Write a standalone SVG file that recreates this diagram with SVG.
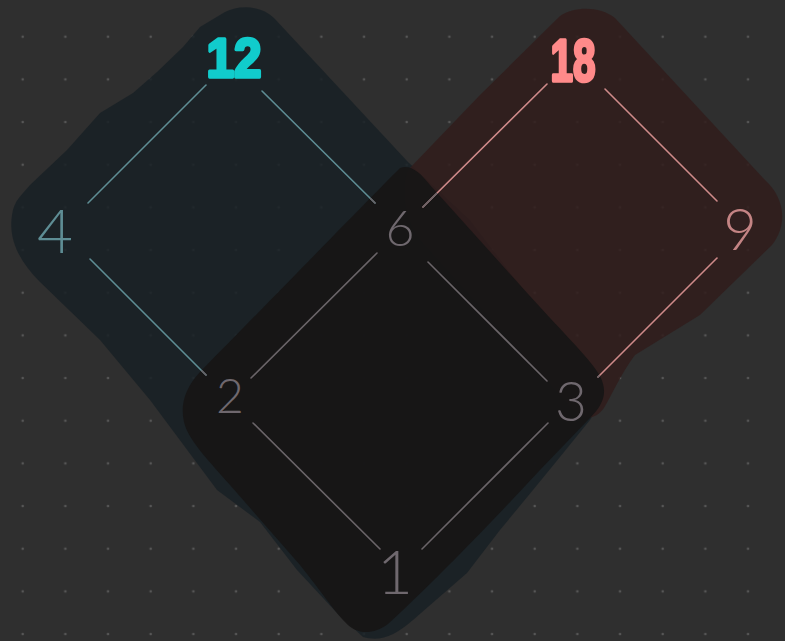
<svg xmlns="http://www.w3.org/2000/svg" width="785" height="641" viewBox="0 0 785 641">
<style>
.bg{fill:#2f2f2f}
.dot{fill:#575757}
.teal{fill:#182125;fill-opacity:0.86}
.red{fill:#311d1c;fill-opacity:0.86}
.blk{fill:#171616;fill-opacity:0.93}
.ln{stroke-width:1.6;stroke-linecap:round;fill:none}
.lt{stroke:#5e8d94}
.lp{stroke:#cf8a8a}
.lg{stroke:#6a6468}
.num{font-family:Lato,"Open Sans","Liberation Sans",sans-serif;font-weight:300;text-anchor:middle}
.big{font-family:"Liberation Sans",Arial,sans-serif;font-weight:bold;text-anchor:middle;stroke-width:3.5;stroke-linejoin:round}
.gt{fill:#6f686e}
</style>
<defs>
<pattern id="grid" patternUnits="userSpaceOnUse" width="42.667" height="42.667">
<circle class="dot" cx="22.67" cy="36.67" r="1.3"/>
</pattern>
<path id="blackShape" d="M 400 168 C 380 188 300 270 200 372 C 185 388 180 405 184 422 C 188 440 210 462 230 485 L 300 565 C 320 590 335 612 345 622 C 355 634 372 636 388 624 C 420 595 480 535 540 470 L 590 418 C 604 404 608 392 600 376 C 590 358 560 330 520 285 L 430 185 C 420 172 410 164 400 168 Z"/>
<clipPath id="blackClip"><use href="#blackShape"/></clipPath>
</defs>
<rect class="bg" x="0" y="0" width="785" height="641"/>
<rect x="0" y="0" width="785" height="641" fill="url(#grid)"/>

<g id="blob-12">
<path class="teal" d="M 225 12 C 240 4 262 6 274 18 L 408 162 L 470 220 L 585 370 C 600 385 600 405 590 420 L 560 457 L 533 490 L 500 530 L 467 573 L 413 620 C 395 636 380 642 363 637 L 337 613 L 297 570 L 260 522 L 217 490 L 150 400 L 100 340 L 40 282 C 20 262 8 240 12 215 C 14 200 22 195 30 185 L 67 150 L 100 113 L 133 93 L 157 72 L 183 47 L 200 27 Z"/>
</g>
<g id="blob-18">
<path class="red" d="M 560 16 C 575 6 600 6 615 18 L 765 180 C 785 198 788 225 772 245 L 700 315 L 635 355 C 620 375 612 395 604 408 C 595 420 585 420 575 412 L 420 240 C 405 220 400 190 408 170 L 480 95 Z"/>
</g>
<g id="blob-6">
<use href="#blackShape" class="blk"/>
</g>

<g id="connectors">
<line class="ln lt" x1="206" y1="85" x2="88" y2="203"/>
<line class="ln lt" x1="262" y1="91" x2="375" y2="203"/>
<line class="ln lp" x1="547" y1="84" x2="423" y2="207"/>
<line class="ln lp" x1="605" y1="89" x2="717" y2="201"/>
<line class="ln lt" x1="90" y1="259" x2="206" y2="375"/>
<line class="ln lp" x1="717" y1="258" x2="598" y2="377"/>
<line class="ln lg" x1="377" y1="253" x2="251" y2="378"/>
<line class="ln lg" x1="428" y1="262" x2="547" y2="381"/>
<line class="ln lg" x1="253" y1="423" x2="380" y2="549"/>
<line class="ln lg" x1="548" y1="423" x2="422" y2="549"/>
<g clip-path="url(#blackClip)">
<line class="ln lg" x1="262" y1="91" x2="375" y2="203"/>
<line class="ln lg" x1="547" y1="84" x2="423" y2="207"/>
<line class="ln lg" x1="90" y1="259" x2="206" y2="375"/>
<line class="ln lg" x1="717" y1="258" x2="598" y2="377"/>
</g>
</g>

<g id="node-12"><text class="big" x="234" y="77" font-size="56" fill="#11cccc" stroke="#11cccc" textLength="55" lengthAdjust="spacingAndGlyphs">12</text></g>
<g id="node-18"><text class="big" x="573" y="81" font-size="60" fill="#ff8a8a" stroke="#ff8a8a" textLength="45" lengthAdjust="spacingAndGlyphs">18</text></g>
<g id="node-4"><text class="num" x="55" y="253" font-size="62" fill="#5e8d94">4</text></g>
<g id="node-6"><text class="num gt" x="400" y="246" font-size="50">6</text></g>
<g id="node-9"><text class="num" x="740" y="250" font-size="58" fill="#c48484">9</text></g>
<g id="node-2"><text class="num gt" x="230" y="413" font-size="48">2</text></g>
<g id="node-3"><text class="num gt" x="571" y="421" font-size="55">3</text></g>
<g id="node-1"><text class="num gt" x="395" y="594" font-size="62">1</text></g>
</svg>
